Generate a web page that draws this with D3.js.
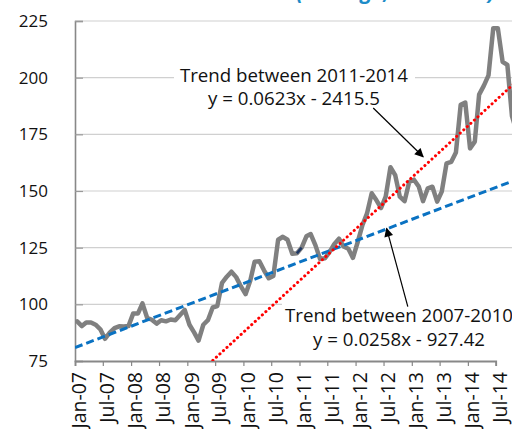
<!DOCTYPE html>
<html>
<head>
<meta charset="utf-8">
<script src="https://cdn.jsdelivr.net/npm/d3@7"></script>
<style>
  body { margin: 0; background: #fff; overflow: hidden; }
  text { font-family: "Open Sans", "Noto Sans", sans-serif; }
</style>
</head>
<body>
<div id="chart"></div>
<script>
// monthly index values, Jan-07 .. Nov-14
var v2007 = [92.5, 90.4, 92, 92, 91, 89, 84.8, 87.5, 89.5, 90.3, 90.2, 90.4];
var v2008 = [96, 96, 100.4, 94, 93.2, 91.5, 93, 92.5, 93.3, 93, 95.3, 97.5];
var v2009 = [91, 87.5, 84, 91, 93, 98.6, 99.2, 109.5, 112.2, 114.4, 112, 108];
var v2010 = [104.5, 110.5, 118.8, 119, 115, 111.5, 112.5, 128.5, 129.8, 128.5, 122.3, 122.5];
var v2011 = [125, 130, 131, 126, 120, 120.3, 123, 126.5, 129, 125.5, 124.5, 120.5];
var v2012 = [127.5, 135, 140, 149, 146, 142.5, 147.5, 160.5, 157, 147.5, 145.5, 154];
var v2013 = [155, 152, 145.5, 151.2, 151.9, 145.3, 149.7, 162.2, 162.9, 167, 188, 189];
var v2014 = [168.8, 171.8, 192.5, 196.5, 201, 221.8, 221.8, 207, 205.6, 183, 176];

var xTickLabels = ["Jan-07", "Jul-07", "Jan-08", "Jul-08", "Jan-09", "Jul-09", "Jan-10", "Jul-10",
                   "Jan-11", "Jul-11", "Jan-12", "Jul-12", "Jan-13", "Jul-13", "Jan-14", "Jul-14", "Jan-15"];
var yTicks = [75, 100, 125, 150, 175, 200, 225];

// linear trends fitted on excel date serials
var trendNames = ["Trend between 2007-2010", "Trend between 2011-2014"];
var trendEquations = ["y = 0.0258x - 927.42", "y = 0.0623x - 2415.5"];
var trendSlopes = [0.0258, 0.0623];
var trendIntercepts = [-927.42, -2415.5];

var title = "Consumer Food Prices (Average, 2005=100)";

var width = 512, height = 429;
var plotLeft = 75, plotTop = 21, plotBottom = 361;

var values = [].concat(v2007, v2008, v2009, v2010, v2011, v2012, v2013, v2014);
var data = values.map(function(v, i) {
  return {date: new Date(Date.UTC(2007, i, 15)), value: v};
});

var parseTick = d3.utcParse("%b-%y");
var parseDay = d3.utcParse("%Y-%m-%d");
var tickDates = xTickLabels.map(parseTick);

var excelEpoch = Date.UTC(1899, 11, 30);
function serial(d) { return (d - excelEpoch) / 86400000; }

var svg = d3.select("#chart").append("svg")
  .attr("width", width)
  .attr("height", height);

var x = d3.scaleUtc()
  .domain([parseTick("Jan-07"), parseTick("Jul-14")])
  .range([plotLeft, 495.7]);

var y = d3.scaleLinear()
  .domain([75, 225])
  .range([plotBottom, plotTop]);

var defs = svg.append("defs");
defs.append("clipPath").attr("id", "plotclip")
  .append("rect")
    .attr("x", plotLeft).attr("y", plotTop - 3)
    .attr("width", 520).attr("height", plotBottom - plotTop + 3);

defs.append("marker")
    .attr("id", "arrow")
    .attr("viewBox", "0 0 10 10")
    .attr("refX", 9).attr("refY", 5)
    .attr("markerWidth", 10).attr("markerHeight", 9)
    .attr("markerUnits", "userSpaceOnUse")
    .attr("orient", "auto")
  .append("path")
    .attr("d", "M0,0 L10,5 L0,10 z")
    .attr("fill", "#000");

// title (mostly cut off by the top edge)
svg.append("text")
  .attr("x", 495)
  .attr("y", -1)
  .attr("text-anchor", "end")
  .style("font-size", "21px")
  .style("font-weight", "bold")
  .style("font-style", "italic")
  .style("fill", "#1d8cc8")
  .text(title);

// gridlines
svg.append("g")
  .selectAll("line")
  .data(yTicks.slice(1))
  .enter()
  .append("line")
    .attr("x1", plotLeft).attr("x2", width)
    .attr("y1", function(d) { return y(d); })
    .attr("y2", function(d) { return y(d); })
    .attr("stroke", "#d0d0d0")
    .attr("stroke-width", 1.2);

// y axis
var yAxis = svg.append("g")
  .attr("transform", "translate(" + plotLeft + ",0)")
  .call(d3.axisRight(y).tickValues(yTicks).tickSize(8).tickFormat(""));
yAxis.select(".domain").attr("stroke", "#888").attr("stroke-width", 1.6);
yAxis.selectAll(".tick line").attr("stroke", "#999").attr("stroke-width", 1.2);

svg.append("g")
  .selectAll("text")
  .data(yTicks)
  .enter()
  .append("text")
    .attr("x", 48)
    .attr("y", function(d) { return y(d); })
    .attr("dy", "0.35em")
    .attr("text-anchor", "end")
    .style("font-size", "17px")
    .style("fill", "#111")
    .text(function(d) { return d; });

// x axis
var xAxis = svg.append("g")
  .attr("transform", "translate(0," + plotBottom + ")")
  .call(d3.axisBottom(x).tickValues(tickDates).tickSize(5).tickFormat(""));
xAxis.select(".domain").attr("stroke", "#888").attr("stroke-width", 1.8);
xAxis.selectAll(".tick line").attr("stroke", "#888").attr("stroke-width", 1.2);

svg.append("g")
  .selectAll("text")
  .data(xTickLabels)
  .enter()
  .append("text")
    .attr("transform", function(d) {
      return "translate(" + (x(parseTick(d)) + 4.5) + ",372) rotate(-90)";
    })
    .attr("dy", "0.35em")
    .attr("text-anchor", "end")
    .style("font-size", "19.5px")
    .style("fill", "#111")
    .text(function(d) { return d; });

var plot = svg.append("g").attr("clip-path", "url(#plotclip)");

// the price series
var line = d3.line()
  .x(function(d) { return x(d.date); })
  .y(function(d) { return y(d.value); });

plot.append("path")
  .datum(data)
  .attr("d", line)
  .attr("fill", "none")
  .attr("stroke", "#808080")
  .attr("stroke-width", 4.5)
  .attr("stroke-linejoin", "round")
  .attr("stroke-linecap", "round");

// small selected segment (Dec-10 to Jan-11)
plot.append("path")
  .datum(data.slice(47, 49))
  .attr("d", line)
  .attr("fill", "none")
  .attr("stroke", "#1f3864")
  .attr("stroke-width", 2.5);

// trend lines
var trendStart = parseTick("Jan-07"), trendEnd = parseTick("Jan-15");
var trendStyles = [
  {stroke: "#0a72c2", width: 3, dash: "8,4", cap: "butt"},
  {stroke: "#ff0000", width: 3, dash: "0.1,4.7", cap: "round"}
];
trendSlopes.forEach(function(a, i) {
  var pts = [trendStart, trendEnd].map(function(d) {
    return {date: d, value: a * serial(d) + trendIntercepts[i]};
  });
  plot.append("path")
    .datum(pts)
    .attr("d", line)
    .attr("fill", "none")
    .attr("stroke", trendStyles[i].stroke)
    .attr("stroke-width", trendStyles[i].width)
    .attr("stroke-dasharray", trendStyles[i].dash)
    .attr("stroke-linecap", trendStyles[i].cap);
});

// annotations: label centre / first baseline, white box, arrow (data space)
var notes = [
  {trend: 1, cx: "2010-11-26", base: 198.3, box: [174, 415],
   from: ["2012-04-25", 186.6], to: ["2013-03-16", 165.1]},
  {trend: 0, cx: "2012-10-10", base: 92.2, box: [282, 530],
   from: ["2012-12-06", 99], to: ["2012-07-21", 133.5]}
];

notes.forEach(function(n) {
  var cx = x(parseDay(n.cx));
  var by = y(n.base);
  svg.append("rect")
    .attr("x", n.box[0]).attr("y", by - 20)
    .attr("width", n.box[1] - n.box[0]).attr("height", 49)
    .attr("fill", "#fff");
  svg.append("text")
    .attr("x", cx).attr("y", by)
    .attr("text-anchor", "middle")
    .style("font-size", "18.7px")
    .style("fill", "#111")
    .text(trendNames[n.trend]);
  svg.append("text")
    .attr("x", cx).attr("y", by + 23.5)
    .attr("text-anchor", "middle")
    .style("font-size", "18.7px")
    .style("fill", "#111")
    .text(trendEquations[n.trend]);
  svg.append("line")
    .attr("x1", x(parseDay(n.from[0]))).attr("y1", y(n.from[1]))
    .attr("x2", x(parseDay(n.to[0]))).attr("y2", y(n.to[1]))
    .attr("stroke", "#000")
    .attr("stroke-width", 1.2)
    .attr("marker-end", "url(#arrow)");
});
</script>
</body>
</html>
